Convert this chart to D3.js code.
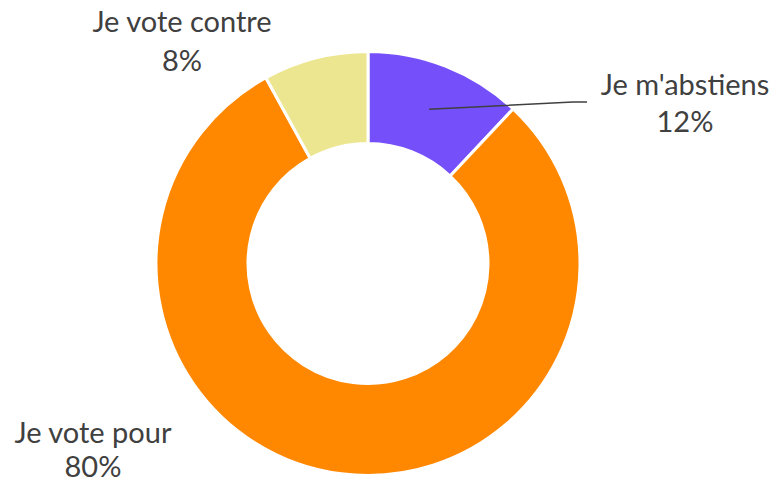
<!DOCTYPE html>
<html lang="fr">
<head>
  <meta charset="UTF-8">
  <title>Vote</title>
  <style>
    body { margin: 0; background: #fff; }
    svg { display: block; }
    .lbl { font-family: 'Lato', 'Open Sans', sans-serif; font-size: 29px; fill: #404040; text-anchor: middle; }
  </style>
  <script src="https://d3js.org/d3.v7.min.js"></script>
</head>
<body>
  <svg id="chart" width="777" height="481"></svg>
  <script>
    // data, in drawing order (clockwise from 12 o'clock)
    const categories = ["Je m'abstiens", "Je vote pour", "Je vote contre"];
    const values = [12, 80, 8];
    const colors = ["#744FFA", "#FF8800", "#EDE690"];

    const svg = d3.select("#chart");
    const cx = 368, cy = 263.5;
    const outerR = 212, innerR = 120;

    const pie = d3.pie().sort(null).value(d => d)(values);
    const arc = d3.arc().innerRadius(innerR).outerRadius(outerR);

    const g = svg.append("g").attr("transform", `translate(${cx},${cy})`);
    g.selectAll("path")
      .data(pie)
      .join("path")
      .attr("d", arc)
      .attr("fill", (d, i) => colors[i])
      .attr("stroke", "#fff")
      .attr("stroke-width", 3)
      .attr("stroke-linejoin", "round");

    // label spots (page coords): first line baseline, gap to second line
    const labelPos = [
      { x: 685, y: 95, gap: 37 },
      { x: 93, y: 443, gap: 34 },
      { x: 182, y: 32, gap: 39 }
    ];

    labelPos.forEach((p, i) => {
      const t = svg.append("text").attr("class", "lbl").attr("x", p.x).attr("y", p.y);
      t.append("tspan").attr("x", p.x).text(categories[i]);
      t.append("tspan").attr("x", p.x).attr("dy", p.gap).text(values[i] + "%");
    });

    // leader line for the small purple slice
    const c = arc.centroid(pie[0]);
    svg.append("polyline")
      .attr("points", `${cx + c[0]},${cy + c[1]} 573,102 587,102`)
      .attr("fill", "none")
      .attr("stroke", "#404040")
      .attr("stroke-width", 1.5);
  </script>
</body>
</html>
